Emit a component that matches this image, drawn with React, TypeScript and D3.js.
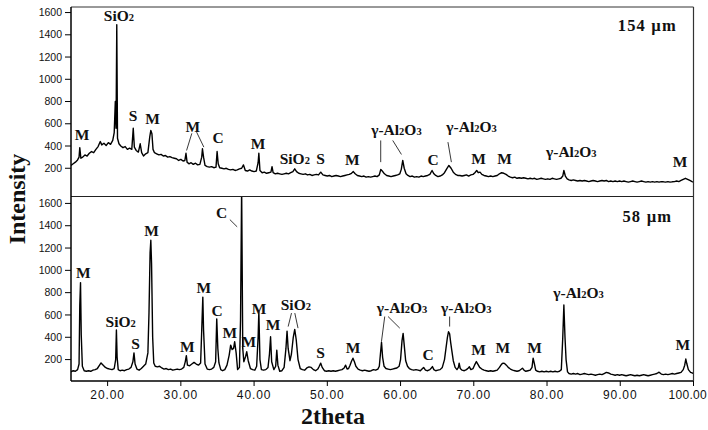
import * as d3 from "d3";

// 2theta / intensity
const thetaTicks = [20, 30, 40, 50, 60, 70, 80, 90, 100];
const intensityTicks = [200, 400, 600, 800, 1000, 1200, 1400, 1600];

const pattern154: [number, number][] = [
  [15.0, 225], [15.3, 240], [15.6, 255], [15.9, 275], [16.1, 300], [16.2, 385], [16.35, 290], [16.6, 300],
  [16.9, 320], [17.2, 310], [17.5, 335], [17.8, 350], [18.1, 340], [18.4, 370], [18.7, 395], [19.0, 440],
  [19.2, 410], [19.5, 425], [19.8, 405], [20.1, 430], [20.4, 415], [20.7, 450], [20.9, 520], [21.05, 800],
  [21.15, 560], [21.25, 1490], [21.35, 470], [21.55, 420], [21.8, 400], [22.1, 385], [22.4, 395], [22.7, 370],
  [23.0, 380], [23.3, 370], [23.5, 560], [23.65, 390], [23.9, 360], [24.2, 345], [24.45, 420], [24.65, 340],
  [24.9, 310], [25.2, 330], [25.5, 340], [25.75, 480], [25.9, 540], [26.05, 510], [26.2, 370], [26.4, 340],
  [26.7, 330], [27.0, 320], [27.3, 325], [27.6, 310], [27.9, 315], [28.2, 300], [28.5, 305], [28.8, 295],
  [29.1, 290], [29.4, 285], [29.7, 270], [30.0, 280], [30.3, 265], [30.55, 270], [30.7, 335], [30.85, 255],
  [31.1, 240], [31.4, 250], [31.7, 235], [32.0, 245], [32.3, 230], [32.6, 235], [32.85, 300], [32.95, 375],
  [33.1, 300], [33.3, 225], [33.6, 215], [33.9, 210], [34.2, 215], [34.5, 205], [34.8, 210], [34.95, 350],
  [35.1, 240], [35.3, 205], [35.6, 200], [35.9, 195], [36.2, 200], [36.5, 190], [36.8, 185], [37.1, 190],
  [37.4, 180], [37.7, 185], [38.0, 195], [38.3, 200], [38.55, 230], [38.8, 180], [39.1, 175], [39.4, 185],
  [39.7, 175], [40.0, 170], [40.3, 175], [40.55, 250], [40.65, 335], [40.8, 180], [41.1, 160], [41.4, 165],
  [41.7, 155], [42.0, 160], [42.3, 165], [42.45, 215], [42.6, 160], [42.9, 150], [43.2, 155], [43.5, 150],
  [43.8, 145], [44.1, 150], [44.4, 155], [44.7, 150], [45.0, 160], [45.3, 170], [45.55, 195], [45.8, 170],
  [46.1, 155], [46.4, 150], [46.7, 145], [47.0, 150], [47.3, 140], [47.6, 145], [47.9, 135], [48.2, 140],
  [48.5, 145], [48.8, 140], [49.1, 165], [49.4, 140], [49.7, 135], [50.0, 130], [50.3, 135], [50.6, 125],
  [50.9, 130], [51.2, 135], [51.5, 130], [51.8, 125], [52.1, 130], [52.4, 135], [52.7, 140], [53.0, 145],
  [53.3, 155], [53.55, 170], [53.8, 150], [54.1, 135], [54.4, 130], [54.7, 125], [55.0, 130], [55.3, 120],
  [55.6, 125], [55.9, 120], [56.2, 125], [56.5, 130], [56.8, 125], [57.1, 140], [57.3, 190], [57.5, 175],
  [57.8, 150], [58.1, 135], [58.4, 130], [58.7, 125], [59.0, 130], [59.3, 135], [59.6, 140], [59.9, 150],
  [60.1, 190], [60.3, 270], [60.5, 200], [60.75, 150], [61.0, 135], [61.3, 125], [61.6, 130], [61.9, 120],
  [62.2, 125], [62.5, 120], [62.8, 130], [63.1, 125], [63.4, 130], [63.7, 135], [64.0, 145], [64.3, 180],
  [64.55, 150], [64.8, 135], [65.1, 125], [65.4, 130], [65.7, 140], [66.0, 160], [66.3, 195], [66.6, 225],
  [66.9, 200], [67.2, 165], [67.5, 145], [67.8, 135], [68.1, 135], [68.4, 130], [68.7, 135], [69.0, 140],
  [69.3, 130], [69.6, 140], [69.9, 145], [70.15, 160], [70.4, 180], [70.6, 160], [70.85, 165], [71.1, 145],
  [71.4, 135], [71.7, 130], [72.0, 125], [72.3, 130], [72.6, 125], [72.9, 130], [73.2, 135], [73.5, 150],
  [73.8, 160], [74.1, 155], [74.4, 145], [74.7, 130], [75.0, 120], [75.3, 115], [75.6, 120], [75.9, 110],
  [76.2, 115], [76.5, 110], [76.8, 115], [77.1, 110], [77.4, 105], [77.7, 110], [78.0, 105], [78.3, 110],
  [78.6, 100], [78.9, 105], [79.2, 110], [79.5, 105], [79.8, 100], [80.1, 105], [80.4, 100], [80.7, 110],
  [81.0, 105], [81.3, 100], [81.6, 105], [81.9, 110], [82.15, 130], [82.3, 180], [82.5, 130], [82.75, 105],
  [83.0, 95], [83.3, 90], [83.6, 95], [83.9, 90], [84.2, 85], [84.5, 90], [84.8, 85], [85.1, 90],
  [85.4, 85], [85.7, 80], [86.0, 85], [86.3, 90], [86.6, 85], [86.9, 80], [87.2, 85], [87.5, 90],
  [87.8, 85], [88.1, 90], [88.4, 80], [88.7, 85], [89.0, 80], [89.3, 85], [89.6, 80], [89.9, 85],
  [90.2, 80], [90.5, 85], [90.8, 80], [91.1, 75], [91.4, 80], [91.7, 85], [92.0, 80], [92.3, 75],
  [92.6, 80], [92.9, 85], [93.2, 80], [93.5, 75], [93.8, 80], [94.1, 75], [94.4, 80], [94.7, 75],
  [95.0, 80], [95.3, 75], [95.6, 80], [95.9, 78], [96.2, 75], [96.5, 80], [96.8, 75], [97.1, 78],
  [97.4, 80], [97.7, 85], [98.0, 80], [98.3, 90], [98.6, 100], [98.9, 110], [99.2, 100], [99.5, 90],
  [99.8, 80], [100, 75],
];

const pattern58: [number, number][] = [
  [15.0, 90], [15.3, 100], [15.6, 95], [15.9, 110], [16.1, 160], [16.2, 690], [16.3, 890], [16.4, 420],
  [16.55, 140], [16.8, 100], [17.1, 95], [17.4, 100], [17.7, 95], [18.0, 105], [18.3, 110], [18.6, 120],
  [18.9, 150], [19.1, 170], [19.4, 150], [19.7, 130], [20.0, 120], [20.3, 115], [20.6, 110], [20.9, 120],
  [21.1, 200], [21.2, 465], [21.3, 220], [21.45, 110], [21.7, 100], [22.0, 105], [22.3, 100], [22.6, 110],
  [22.9, 115], [23.2, 130], [23.45, 180], [23.6, 260], [23.75, 160], [24.0, 115], [24.3, 105], [24.6, 120],
  [24.9, 140], [25.2, 160], [25.5, 260], [25.65, 620], [25.8, 1160], [25.9, 1270], [26.0, 1060], [26.15, 400],
  [26.3, 170], [26.5, 140], [26.8, 135], [27.1, 140], [27.4, 125], [27.7, 115], [28.0, 120], [28.3, 110],
  [28.6, 115], [28.9, 105], [29.2, 110], [29.5, 115], [29.8, 110], [30.1, 115], [30.4, 130], [30.6, 180],
  [30.75, 235], [30.9, 150], [31.2, 145], [31.5, 160], [31.8, 175], [32.1, 160], [32.4, 150], [32.7, 170],
  [32.85, 460], [33.0, 760], [33.1, 465], [33.3, 160], [33.6, 115], [33.9, 110], [34.2, 115], [34.5, 130],
  [34.75, 180], [34.9, 565], [35.05, 300], [35.2, 170], [35.45, 110], [35.7, 100], [36.0, 110], [36.3, 150],
  [36.6, 240], [36.8, 330], [37.0, 290], [37.2, 300], [37.35, 360], [37.55, 260], [37.75, 110], [38.0, 130],
  [38.15, 560], [38.3, 1750], [38.45, 300], [38.6, 180], [38.85, 230], [39.0, 270], [39.2, 190], [39.5, 120],
  [39.8, 110], [40.1, 105], [40.35, 140], [40.55, 400], [40.65, 630], [40.8, 200], [41.0, 110], [41.3, 105],
  [41.6, 110], [41.9, 130], [42.1, 250], [42.25, 405], [42.4, 180], [42.7, 110], [42.95, 140], [43.1, 285],
  [43.25, 150], [43.5, 95], [43.8, 100], [44.1, 130], [44.35, 300], [44.5, 455], [44.65, 300], [44.9, 190],
  [45.1, 250], [45.35, 400], [45.55, 470], [45.75, 380], [46.0, 200], [46.3, 120], [46.6, 110], [46.9, 105],
  [47.2, 125], [47.5, 135], [47.8, 130], [48.1, 110], [48.4, 100], [48.7, 115], [48.9, 140], [49.1, 168],
  [49.3, 130], [49.6, 100], [49.9, 95], [50.2, 100], [50.5, 95], [50.8, 100], [51.1, 95], [51.4, 100],
  [51.7, 105], [52.0, 110], [52.3, 125], [52.5, 150], [52.7, 115], [52.9, 120], [53.1, 150], [53.3, 185],
  [53.5, 212], [53.7, 180], [53.9, 140], [54.2, 115], [54.5, 105], [54.8, 100], [55.1, 105], [55.4, 100],
  [55.7, 95], [56.0, 100], [56.3, 110], [56.6, 105], [56.9, 115], [57.1, 140], [57.25, 250], [57.4, 355],
  [57.55, 220], [57.75, 140], [58.0, 120], [58.3, 115], [58.6, 110], [58.9, 115], [59.2, 120], [59.5, 125],
  [59.8, 140], [60.0, 200], [60.2, 370], [60.35, 435], [60.5, 330], [60.7, 190], [60.95, 140], [61.2, 120],
  [61.5, 110], [61.8, 105], [62.1, 110], [62.4, 105], [62.7, 100], [63.0, 120], [63.15, 130], [63.4, 105],
  [63.7, 100], [64.0, 110], [64.2, 125], [64.35, 137], [64.55, 110], [64.8, 100], [65.1, 105], [65.4, 110],
  [65.7, 130], [66.0, 200], [66.2, 300], [66.4, 400], [66.55, 450], [66.7, 430], [66.85, 350], [67.0, 280],
  [67.2, 190], [67.45, 130], [67.7, 110], [67.9, 130], [68.0, 168], [68.15, 120], [68.4, 105], [68.7, 100],
  [69.0, 110], [69.25, 125], [69.4, 135], [69.6, 110], [69.9, 120], [70.1, 150], [70.35, 182], [70.55, 160],
  [70.8, 130], [71.1, 115], [71.4, 105], [71.7, 100], [72.0, 95], [72.3, 100], [72.6, 95], [72.9, 100],
  [73.2, 105], [73.5, 130], [73.8, 160], [74.0, 168], [74.2, 165], [74.45, 150], [74.7, 130], [75.0, 115],
  [75.3, 105], [75.6, 100], [75.9, 95], [76.2, 100], [76.5, 115], [76.65, 123], [76.85, 105], [77.1, 95],
  [77.4, 100], [77.7, 105], [77.95, 130], [78.1, 212], [78.25, 170], [78.45, 105], [78.7, 95], [79.0, 90],
  [79.3, 95], [79.6, 90], [79.9, 95], [80.2, 90], [80.5, 95], [80.8, 90], [81.1, 95], [81.4, 90],
  [81.7, 95], [81.95, 110], [82.15, 400], [82.3, 690], [82.45, 405], [82.6, 200], [82.8, 90], [83.0, 75],
  [83.3, 70], [83.6, 75], [83.9, 70], [84.2, 75], [84.5, 65], [84.8, 70], [85.1, 75], [85.4, 70],
  [85.7, 65], [86.0, 70], [86.3, 65], [86.6, 60], [86.9, 65], [87.2, 70], [87.5, 65], [87.8, 75],
  [88.1, 85], [88.4, 80], [88.7, 70], [89.0, 65], [89.3, 60], [89.6, 65], [89.9, 60], [90.2, 65],
  [90.5, 60], [90.8, 55], [91.1, 60], [91.4, 65], [91.7, 60], [92.0, 55], [92.3, 60], [92.6, 55],
  [92.9, 60], [93.2, 65], [93.5, 60], [93.8, 55], [94.1, 60], [94.4, 65], [94.7, 70], [95.0, 75],
  [95.3, 87], [95.6, 70], [95.9, 65], [96.2, 70], [96.5, 65], [96.8, 70], [97.1, 75], [97.4, 70],
  [97.7, 75], [98.0, 80], [98.3, 85], [98.6, 110], [98.8, 150], [98.95, 205], [99.1, 160], [99.3, 110],
  [99.6, 85], [99.8, 80], [100, 75],
];

// phase labels: text, 2theta, intensity where the label sits
const labels154: [string, number, number][] = [
  ["M", 16.5, 450], ["SiO2", 21.55, 1523], ["S", 23.46, 624], ["M", 26.15, 595], ["M", 31.64, 525],
  ["C", 35.1, 426], ["M", 40.55, 369], ["SiO2", 45.56, 240], ["S", 49.07, 240], ["M", 53.43, 225],
  ["γ-Al2O3", 59.43, 495], ["C", 64.43, 225], ["γ-Al2O3", 69.7, 525], ["M", 70.66, 240], ["M", 74.21, 240],
  ["γ-Al2O3", 83.31, 300], ["M", 98.18, 210],
];
const leaders154: [number, number, number, number][] = [
  [31.5, 514, 30.78, 360], [32.15, 525, 33.14, 390],
  [57.29, 450, 57.29, 255], [58.93, 450, 60.12, 324],
  [66.47, 435, 66.94, 255],
];

const labels58: [string, number, number][] = [
  ["M", 16.68, 931], ["SiO2", 21.78, 496], ["S", 23.83, 293], ["M", 26.0, 1305], ["M", 30.87, 271],
  ["M", 33.15, 796], ["C", 34.96, 595], ["M", 36.69, 392], ["C", 35.56, 1471], ["M", 39.28, 316],
  ["M", 40.69, 608], ["M", 42.6, 467], ["SiO2", 45.7, 646], ["S", 49.07, 212], ["M", 53.51, 257],
  ["γ-Al2O3", 60.2, 617], ["C", 63.75, 197], ["γ-Al2O3", 68.98, 617], ["M", 70.66, 242], ["M", 73.98, 257],
  ["M", 78.3, 257], ["γ-Al2O3", 84.3, 751], ["M", 98.53, 287],
];
const leaders58: [number, number, number, number][] = [
  [36.69, 1455, 37.69, 1390],
  [45.11, 617, 44.65, 496], [45.56, 617, 46.0, 482],
  [57.84, 586, 57.39, 361], [58.29, 586, 59.89, 482],
  [66.7, 586, 66.7, 496],
];

const serif = "'Liberation Serif', 'Times New Roman', serif";
const sans = "'Liberation Sans', Arial, sans-serif";

const W = 708;
const H = 430;
const left = 71;
const right = 693.5;
const top1 = 7;
const mid = 196.5;
const bottom = 381;

function Formula({ text, x, y }: { text: string; x: number; y: number }) {
  const parts = text.split(/(\d)/).filter((p) => p !== "");
  return (
    <text x={x} y={y} textAnchor="middle" fontFamily={serif} fontWeight="bold" fontSize={15.5} fill="#111">
      {parts.map((p, i) =>
        /\d/.test(p) ? (
          <tspan key={i} fontSize={10.5}>{p}</tspan>
        ) : (
          <tspan key={i}>{p}</tspan>
        )
      )}
    </text>
  );
}

function Panel({ data, labels, leaders, y, tag, clipId }: {
  data: [number, number][];
  labels: [string, number, number][];
  leaders: [number, number, number, number][];
  y: d3.ScaleLinear<number, number>;
  tag: string;
  clipId: string;
}) {
  const x = d3.scaleLinear().domain([15, 100]).range([left, right]);
  const line = d3.line<[number, number]>().x((d) => x(d[0])).y((d) => y(d[1]));
  const [r0, r1] = y.range();
  return (
    <g>
      <clipPath id={clipId}>
        <rect x={left} y={r1} width={right - left} height={r0 - r1} />
      </clipPath>
      <path d={line(data) || ""} fill="none" stroke="#000" strokeWidth={1.4} strokeLinejoin="round" clipPath={`url(#${clipId})`} />
      {leaders.map((l, i) => (
        <line key={i} x1={x(l[0])} y1={y(l[1])} x2={x(l[2])} y2={y(l[3])} stroke="#222" strokeWidth={0.9} />
      ))}
      {labels.map((l, i) => (
        <Formula key={i} text={l[0]} x={x(l[1])} y={y(l[2])} />
      ))}
      {intensityTicks.map((t) => (
        <g key={t}>
          <line x1={left - 6} x2={left} y1={y(t)} y2={y(t)} stroke="#000" strokeWidth={1} />
          <text x={left - 9} y={y(t)} dy="0.35em" textAnchor="end" fontFamily={sans} fontSize={10.5} fill="#111">
            {t}
          </text>
        </g>
      ))}
      <text x={x(93.7)} y={y(1436)} textAnchor="middle" fontFamily={serif} fontWeight="bold" fontSize={16.5} letterSpacing={1.2} fill="#111">
        {tag}
      </text>
    </g>
  );
}

export default function App() {
  const x = d3.scaleLinear().domain([15, 100]).range([left, right]);
  const yTop = d3.scaleLinear().domain([-54, 1650]).range([mid, top1]);
  const yBot = d3.scaleLinear().domain([8, 1662]).range([bottom, mid]);

  return (
    <svg width={W} height={H} style={{ position: "absolute", left: 0, top: 0, background: "#fff" }}>
      <rect width={W} height={H} fill="#fff" />
      <Panel data={pattern154} labels={labels154} leaders={leaders154} y={yTop} tag="154  µm" clipId="clipTop" />
      <Panel data={pattern58} labels={labels58} leaders={leaders58} y={yBot} tag="58  µm" clipId="clipBot" />
      {/* frames */}
      <line x1={left} x2={right} y1={top1} y2={top1} stroke="#333" strokeWidth={1} />
      <line x1={left} x2={right} y1={mid} y2={mid} stroke="#222" strokeWidth={1.2} />
      <line x1={left} x2={right} y1={bottom} y2={bottom} stroke="#000" strokeWidth={1.3} />
      <line x1={left} x2={left} y1={top1} y2={bottom} stroke="#000" strokeWidth={1.5} />
      <line x1={right} x2={right} y1={top1} y2={bottom} stroke="#333" strokeWidth={1.2} />
      {thetaTicks.map((t, i) => {
        const last = i === thetaTicks.length - 1;
        return (
          <g key={t}>
            <line x1={x(t)} x2={x(t)} y1={bottom} y2={bottom + 5} stroke="#000" strokeWidth={1} />
            <text x={last ? W - 1 : x(t)} y={399} textAnchor={last ? "end" : "middle"} fontFamily={sans} fontSize={12} letterSpacing={last ? 0.3 : 0.9} fill="#111">
              {t.toFixed(2)}
            </text>
          </g>
        );
      })}
      <text x={333} y={424} textAnchor="middle" fontFamily={serif} fontWeight="bold" fontSize={24} fill="#111">
        2theta
      </text>
      <text transform="translate(25,199) rotate(-90)" textAnchor="middle" fontFamily={serif} fontWeight="bold" fontSize={24} fill="#111">
        Intensity
      </text>
    </svg>
  );
}
